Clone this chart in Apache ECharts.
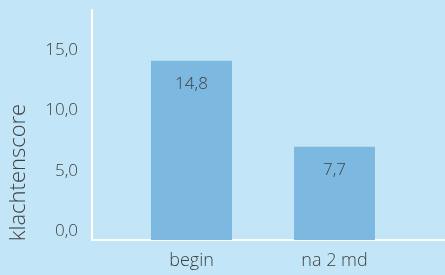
<!DOCTYPE html>
<html>
<head>
<meta charset="utf-8">
<script src="https://cdn.jsdelivr.net/npm/echarts@6/dist/echarts.min.js"></script>
<style>
  html, body { margin: 0; padding: 0; background: #c2e6f8; }
  #chart { width: 445px; height: 275px; }
</style>
</head>
<body>
<div id="chart"></div>
<script>
const categories = ['begin', 'na 2 md'];
const scores = [14.8, 7.7];
const yTicks = [0, 5, 10, 15];

const FONT = "'Open Sans', Lato, 'DejaVu Sans', sans-serif";
const TEXT = '#404040';
const Y_MAX = 19;

const chart = echarts.init(document.getElementById('chart'), null, { renderer: 'canvas' });

const option = {
  backgroundColor: '#c2e6f8',
  animation: false,
  grid: [
    // axis lines + tick labels
    { left: 89, right: 0, top: 10, bottom: 35 },
    // bars
    { left: 120, right: 39, top: 10, bottom: 35 }
  ],
  xAxis: [
    {
      gridIndex: 0,
      type: 'value',
      min: 0,
      max: 1,
      axisLine: { show: true, onZero: false, lineStyle: { color: '#ffffff', width: 2 } },
      axisTick: { show: false },
      axisLabel: { show: false },
      splitLine: { show: false }
    },
    {
      gridIndex: 1,
      type: 'category',
      data: categories,
      axisLine: { show: false },
      axisTick: { show: false },
      axisLabel: {
        color: TEXT,
        fontFamily: FONT,
        fontWeight: 300,
        fontSize: 18,
        margin: 12
      }
    }
  ],
  yAxis: [
    {
      gridIndex: 0,
      type: 'value',
      min: 0,
      max: Y_MAX,
      interval: 5,
      name: 'klachtenscore',
      nameLocation: 'middle',
      nameGap: 62,
      nameRotate: 90,
      nameTextStyle: {
        color: TEXT,
        fontFamily: FONT,
        fontWeight: 300,
        fontSize: 22,
        padding: [0, 95, 0, 0]
      },
      axisLine: { show: true, lineStyle: { color: '#ffffff', width: 2 } },
      axisTick: { show: false },
      splitLine: { show: false },
      axisLabel: {
        color: TEXT,
        fontFamily: FONT,
        fontWeight: 300,
        fontSize: 17,
        margin: 14,
        verticalAlign: 'bottom',
        formatter: v => yTicks.includes(v) ? v.toFixed(1).replace('.', ',') : ''
      }
    },
    {
      gridIndex: 1,
      type: 'value',
      min: 0,
      max: Y_MAX,
      show: false
    }
  ],
  series: [
    {
      type: 'bar',
      xAxisIndex: 1,
      yAxisIndex: 1,
      data: scores,
      barWidth: 81,
      itemStyle: { color: '#7cb8e0' },
      label: {
        show: true,
        position: 'insideTop',
        distance: 15,
        color: TEXT,
        fontFamily: FONT,
        fontWeight: 300,
        fontSize: 17,
        formatter: p => p.value.toFixed(1).replace('.', ',')
      },
      z: 1
    }
  ]
};

chart.setOption(option);
</script>
</body>
</html>
